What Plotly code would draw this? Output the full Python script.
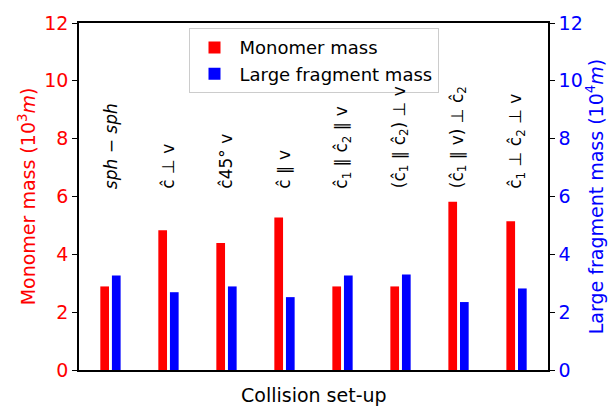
import plotly.graph_objects as go

setups = ["<i>sph</i> − <i>sph</i>", "ĉ ⊥ v", "ĉ45° v", "ĉ ∥ v",
          "ĉ<sub>1</sub> ∥ ĉ<sub>2</sub> ∥ v", "(ĉ<sub>1</sub> ∥ ĉ<sub>2</sub>) ⊥ v",
          "(ĉ<sub>1</sub> ∥ v) ⊥ ĉ<sub>2</sub>", "ĉ<sub>1</sub> ⊥ ĉ<sub>2</sub> ⊥ v"]
positions = list(range(len(setups)))
monomer_mass = [2.89, 4.83, 4.39, 5.27, 2.89, 2.89, 5.82, 5.14]
fragment_mass = [3.27, 2.69, 2.89, 2.52, 3.27, 3.30, 2.35, 2.82]
label_y = 6.2
ticks = [0, 2, 4, 6, 8, 10, 12]

font = "DejaVu Sans"
fig = go.Figure()
fig.add_trace(go.Bar(x=positions, y=monomer_mass, name="Monomer mass",
                     marker=dict(color="#ff0000", line=dict(width=0)),
                     width=0.15, offset=-0.175, yaxis="y"))
fig.add_trace(go.Bar(x=positions, y=fragment_mass, name="Large fragment mass",
                     marker=dict(color="#0000ff", line=dict(width=0)),
                     width=0.15, offset=0.025, yaxis="y2"))

for p, s in zip(positions, setups):
    fig.add_annotation(x=p, y=label_y, xref="x", yref="y", text=s, textangle=-90,
                       showarrow=False, xanchor="center", yanchor="bottom",
                       font=dict(family=font, size=17, color="black"))

fig.add_annotation(x=0.5, y=0, xref="paper", yref="paper", text="Collision set-up",
                   showarrow=False, xanchor="center", yanchor="top", yshift=-12,
                   font=dict(family=font, size=19, color="black"))

fig.update_layout(
    width=616, height=409,
    margin=dict(l=79, r=63, t=17, b=39),
    paper_bgcolor="white", plot_bgcolor="white",
    font=dict(family=font, size=19, color="black"),
    barmode="overlay",
    showlegend=True,
    legend=dict(x=0.5, xanchor="center", y=0.985, yanchor="top",
                bordercolor="#cccccc", borderwidth=1, bgcolor="rgba(255,255,255,0.8)",
                font=dict(size=18, family=font), itemwidth=40),
    xaxis=dict(range=[-0.5425, 7.5425], showticklabels=False, ticks="",
               showline=True, linecolor="black", linewidth=1.5, mirror=True,
               showgrid=False, zeroline=False),
    yaxis=dict(range=[0, 12], tickvals=ticks, ticks="outside", ticklen=5,
               tickcolor="black", showline=True, linecolor="black", linewidth=1.5,
               showgrid=False, zeroline=False,
               tickfont=dict(color="#ff0000", size=19),
               title=dict(text="Monomer mass (10<sup>3</sup><i>m</i>)",
                          font=dict(color="#ff0000", size=19), standoff=4)),
    yaxis2=dict(range=[0, 12], tickvals=ticks, ticks="outside", ticklen=5,
                tickcolor="black", overlaying="y", side="right",
                showline=True, linecolor="black", linewidth=1.5,
                showgrid=False, zeroline=False,
                tickfont=dict(color="#0000ff", size=19),
                title=dict(text="Large fragment mass (10<sup>4</sup><i>m</i>)",
                           font=dict(color="#0000ff", size=19), standoff=8)),
)
fig.write_html("out.html")
